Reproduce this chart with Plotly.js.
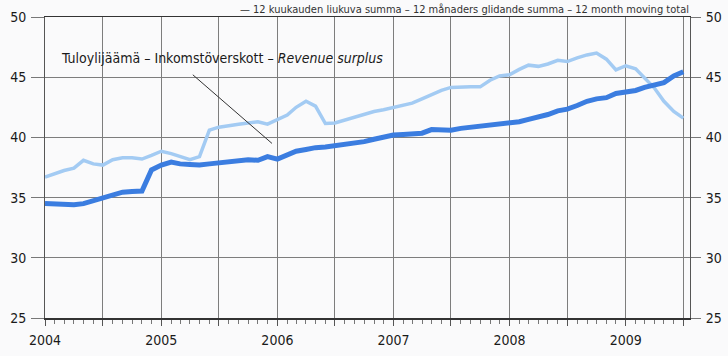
<!DOCTYPE html>
<html>
<head>
<meta charset="utf-8">
<script src="https://cdn.plot.ly/plotly-3.0.1.min.js"></script>
<style>
  html, body { margin: 0; padding: 0; background: #fafafb; }
  #chart { width: 728px; height: 356px; }
</style>
</head>
<body>
<div id="chart"></div>
<script>
// Monthly observations, Jan 2004 – Jul 2009
const startYear = 2004;
const yearLabels = ["2004", "2005", "2006", "2007", "2008", "2009"];

// 12-month moving total (dark line)
const movingTotal = [
  34.5, 34.45, 34.4, 34.4, 34.5, 34.75, 35.0, 35.25, 35.45, 35.5, 35.55, 37.3,
  37.7, 37.95, 37.8, 37.75, 37.7, 37.8, 37.9, 38.0, 38.1, 38.15, 38.1, 38.4,
  38.2, 38.5, 38.85, 39.0, 39.15, 39.2, 39.3, 39.4, 39.5, 39.65, 39.85, 40.05,
  40.2, 40.25, 40.25, 40.35, 40.65, 40.6, 40.6, 40.75, 40.85, 40.95, 41.05, 41.1,
  41.2, 41.3, 41.5, 41.65, 41.9, 42.2, 42.35, 42.65, 43.0, 43.2, 43.3, 43.65,
  43.8, 43.9, 44.15, 44.3, 44.55, 45.1, 45.45
];

// Revenue surplus (light line)
const revenueSurplus = [
  36.7, 37.0, 37.25, 37.45, 38.1, 37.8, 37.7, 38.15, 38.3, 38.3, 38.2, 38.5,
  38.85, 38.65, 38.4, 38.15, 38.4, 40.6, 40.85, 41.0, 41.1, 41.2, 41.3, 41.1,
  41.5, 41.85, 42.5, 43.0, 42.6, 41.15, 41.2, 41.45, 41.7, 41.9, 42.15, 42.3,
  42.5, 42.65, 42.85, 43.2, 43.55, 43.9, 44.15, 44.2, 44.2, 44.2, 44.75, 45.1,
  45.2, 45.65, 46.0, 45.9, 46.1, 46.4, 46.3, 46.6, 46.85, 47.0, 46.5, 45.6,
  45.95, 45.7, 44.95, 44.1, 43.0, 42.15, 41.6
];

const surplusLabel = "Tuloylijäämä – Inkomstöverskott – <i>Revenue surplus</i>";
const topLabel = "— 12 kuukauden liukuva summa – 12 månaders glidande summa – 12 month moving total";

function monthDate(i) {
  const y = startYear + Math.floor(i / 12);
  const m = (i % 12) + 1;
  return y + "-" + String(m).padStart(2, "0") + "-01";
}
const dates = movingTotal.map((_, i) => monthDate(i));

// half-year grid ticks, labels only on the years
const tickvals = [], ticktext = [];
yearLabels.forEach(y => {
  tickvals.push(y + "-01-01"); ticktext.push(y);
  tickvals.push(y + "-07-01"); ticktext.push("");
});

const font = "DejaVu Sans Condensed, Liberation Sans Narrow, sans-serif";
const tickFont = { family: font, size: 14, color: "#1a1a1a" };

const traces = [
  {
    x: dates, y: revenueSurplus, type: "scatter", mode: "lines",
    line: { color: "#a3cbf3", width: 3.5 }, hoverinfo: "skip", showlegend: false
  },
  {
    x: dates, y: movingTotal, type: "scatter", mode: "lines",
    line: { color: "#3b7de0", width: 5 }, hoverinfo: "skip", showlegend: false
  },
  {
    x: [dates[0]], y: [25], yaxis: "y2", type: "scatter", mode: "markers",
    marker: { opacity: 0 }, hoverinfo: "skip", showlegend: false
  }
];

const layout = {
  width: 728, height: 356,
  margin: { l: 45, r: 38, t: 17, b: 38 },
  paper_bgcolor: "#fafafb",
  plot_bgcolor: "#fafafb",
  font: { family: font, size: 14, color: "#1a1a1a" },
  xaxis: {
    type: "date",
    range: ["2004-01-01", "2009-07-22"],
    tickmode: "array", tickvals: tickvals, ticktext: ticktext,
    showgrid: true, gridcolor: "#7d7d7d", gridwidth: 1,
    ticks: "outside", ticklen: 6, tickcolor: "#555", tickwidth: 1,
    ticklabelstandoff: 3,
    minor: { dtick: "M1", tick0: "2004-01-01", ticks: "outside", ticklen: 4, tickcolor: "#777", showgrid: false },
    showline: true, linecolor: "#333", linewidth: 1.5, mirror: true,
    zeroline: false, fixedrange: true,
    tickfont: tickFont
  },
  yaxis: {
    range: [25, 50], dtick: 5, tick0: 25,
    showgrid: true, gridcolor: "#7d7d7d", gridwidth: 1,
    ticks: "outside", ticklen: 13, tickcolor: "#777", tickwidth: 1,
    ticklabelstandoff: 2,
    showline: true, linecolor: "#555", linewidth: 1, mirror: true,
    zeroline: false, fixedrange: true,
    tickfont: tickFont
  },
  yaxis2: {
    range: [25, 50], dtick: 5, tick0: 25, overlaying: "y", side: "right",
    showgrid: false, ticks: "outside", ticklen: 10, tickcolor: "#777", tickwidth: 1,
    ticklabelstandoff: 2, zeroline: false, fixedrange: true, showline: false,
    tickfont: tickFont
  },
  shapes: [
    {
      type: "line", xref: "x", yref: "y",
      x0: "2005-04-10", y0: 45.2, x1: "2005-12-15", y1: 39.5,
      line: { color: "#333", width: 1 }
    }
  ],
  annotations: [
    {
      text: surplusLabel, xref: "paper", yref: "paper",
      x: 0.022, y: 0.864, xanchor: "left", yanchor: "middle",
      showarrow: false, font: { family: font, size: 14, color: "#1a1a1a" }
    },
    {
      text: topLabel, xref: "paper", yref: "paper",
      x: 1.0, y: 1.0, xanchor: "right", yanchor: "bottom",
      showarrow: false, borderpad: 0,
      font: { family: font, size: 11, color: "#333" }
    }
  ]
};

Plotly.newPlot("chart", traces, layout, { displayModeBar: false, staticPlot: true });
</script>
</body>
</html>
